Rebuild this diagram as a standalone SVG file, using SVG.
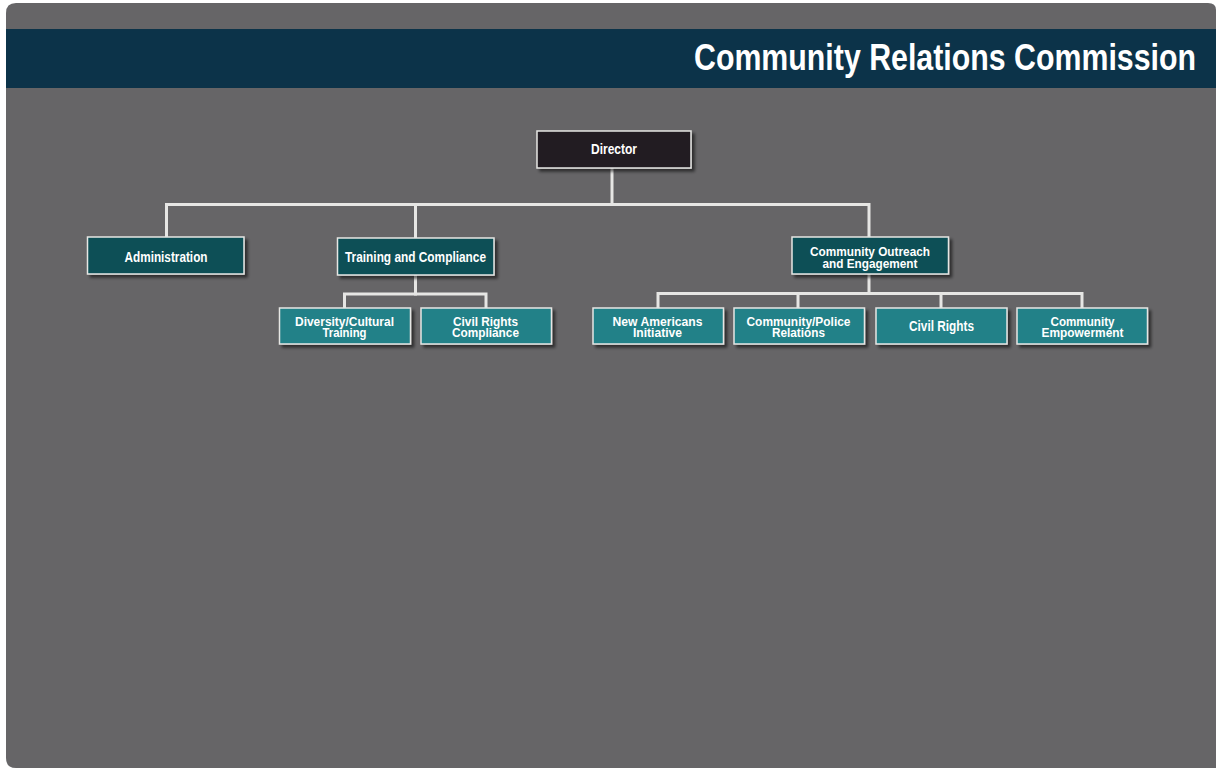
<svg xmlns="http://www.w3.org/2000/svg" width="1216" height="769" viewBox="0 0 1216 769">
  <defs>
    <filter id="shadow" x="-10%" y="-20%" width="130%" height="160%">
      <feDropShadow dx="3" dy="3" stdDeviation="1.8" flood-color="#000" flood-opacity="0.55"/>
    </filter>
  </defs>
  <style>
    .box { stroke: #e6e6e4; stroke-width: 1.5; filter: url(#shadow); }
    .top { fill: #231f20; }
    .mid { fill: #0f5057; }
    .low { fill: #228188; }
    .lbl { font-family: "Liberation Sans", Arial, sans-serif; font-weight: bold; font-size: 14.5px; fill: #ffffff; text-anchor: middle; }
    .two { font-size: 13.5px; }
    .conn { fill: none; stroke: #e6e6e4; stroke-width: 3; stroke-linecap: square; }
  </style>

  <!-- panel -->
  <rect width="1216" height="769" fill="#ffffff"/>
  <path d="M16,3 H1208 Q1216,3 1216,10 V768 H16 Q6,768 6,758 V13 Q6,3 16,3 Z" fill="#666567"/>

  <!-- title band -->
  <rect x="6" y="29" width="1210" height="59" fill="#0c3349"/>
  <text x="694" y="69.5" textLength="502" lengthAdjust="spacingAndGlyphs" font-family="Liberation Sans, Arial, sans-serif" font-weight="bold" font-size="37.5" fill="#ffffff">Community Relations Commission</text>

  <!-- connectors -->
  <g id="connectors" class="conn">
    <path d="M612,169 V204.5"/>
    <path d="M166.5,236 V204.5 H869 V236"/>
    <path d="M415.5,204.5 V237"/>
    <path d="M415.5,276 V294 H344.5 V307"/>
    <path d="M415.5,294 H486 V307"/>
    <path d="M869,275 V293.5"/>
    <path d="M658,307 V293.5 H1082 V307"/>
    <path d="M798,293.5 V307"/>
    <path d="M941,293.5 V307"/>
  </g>

  <!-- level 1 -->
  <g id="director">
    <rect class="box top" x="537" y="131" width="154" height="37"/>
    <text class="lbl" x="614" y="154" textLength="46" lengthAdjust="spacingAndGlyphs">Director</text>
  </g>

  <!-- level 2 -->
  <g id="administration">
    <rect class="box mid" x="87.5" y="237" width="156.5" height="37"/>
    <text class="lbl" x="166" y="261.5" textLength="83" lengthAdjust="spacingAndGlyphs">Administration</text>
  </g>
  <g id="training-compliance">
    <rect class="box mid" x="337.5" y="238" width="156.5" height="37"/>
    <text class="lbl" x="415.5" y="262" textLength="141" lengthAdjust="spacingAndGlyphs">Training and Compliance</text>
  </g>
  <g id="community-outreach">
    <rect class="box mid" x="792" y="237" width="156.5" height="37"/>
    <text class="lbl two" x="870" y="255.5" textLength="120" lengthAdjust="spacingAndGlyphs">Community Outreach</text>
    <text class="lbl two" x="870" y="267.5" textLength="95" lengthAdjust="spacingAndGlyphs">and Engagement</text>
  </g>

  <!-- level 3 -->
  <g id="diversity-training">
    <rect class="box low" x="279.5" y="308" width="131" height="36"/>
    <text class="lbl two" x="344.5" y="325.5" textLength="99" lengthAdjust="spacingAndGlyphs">Diversity/Cultural</text>
    <text class="lbl two" x="344.5" y="337" textLength="44" lengthAdjust="spacingAndGlyphs">Training</text>
  </g>
  <g id="civil-rights-compliance">
    <rect class="box low" x="421" y="308" width="130.5" height="36"/>
    <text class="lbl two" x="485.5" y="325.5" textLength="65" lengthAdjust="spacingAndGlyphs">Civil Rights</text>
    <text class="lbl two" x="485.5" y="337" textLength="67" lengthAdjust="spacingAndGlyphs">Compliance</text>
  </g>
  <g id="new-americans">
    <rect class="box low" x="593" y="308" width="130.5" height="36"/>
    <text class="lbl two" x="657.5" y="325.5" textLength="90" lengthAdjust="spacingAndGlyphs">New Americans</text>
    <text class="lbl two" x="657.5" y="337" textLength="49" lengthAdjust="spacingAndGlyphs">Initiative</text>
  </g>
  <g id="community-police">
    <rect class="box low" x="734" y="308" width="130.5" height="36"/>
    <text class="lbl two" x="798.5" y="325.5" textLength="104" lengthAdjust="spacingAndGlyphs">Community/Police</text>
    <text class="lbl two" x="798.5" y="337" textLength="53" lengthAdjust="spacingAndGlyphs">Relations</text>
  </g>
  <g id="civil-rights">
    <rect class="box low" x="876" y="308" width="131" height="36"/>
    <text class="lbl" x="941.5" y="330.5" textLength="65" lengthAdjust="spacingAndGlyphs">Civil Rights</text>
  </g>
  <g id="community-empowerment">
    <rect class="box low" x="1017" y="308" width="130.5" height="36"/>
    <text class="lbl two" x="1082.5" y="325.5" textLength="64" lengthAdjust="spacingAndGlyphs">Community</text>
    <text class="lbl two" x="1082.5" y="337" textLength="82" lengthAdjust="spacingAndGlyphs">Empowerment</text>
  </g>
</svg>
